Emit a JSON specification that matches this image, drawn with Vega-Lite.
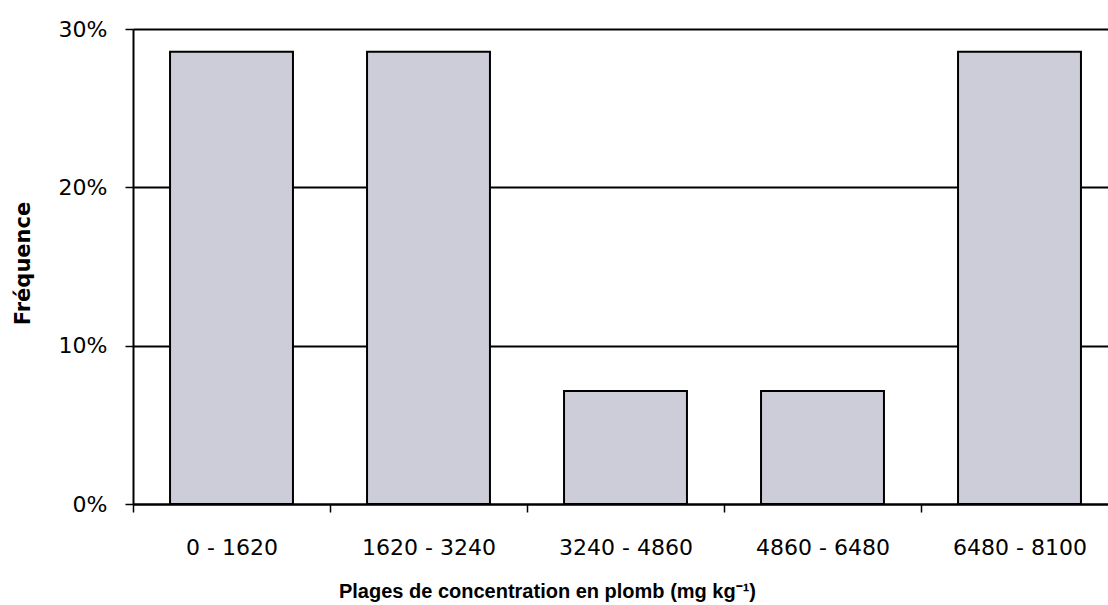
{
  "$schema": "https://vega.github.io/schema/vega-lite/v6.json",
  "autosize": {"type": "none"},
  "width": 985,
  "height": 475,
  "padding": {"left": 133, "top": 29, "right": 0, "bottom": 101},
  "background": "white",
  "config": {
    "view": {"stroke": null},
    "font": "DejaVu Sans"
  },
  "data": {
    "values": [
      {"plage": "0 - 1620", "freq": 0.2857},
      {"plage": "1620 - 3240", "freq": 0.2857},
      {"plage": "3240 - 4860", "freq": 0.0714},
      {"plage": "4860 - 6480", "freq": 0.0714},
      {"plage": "6480 - 8100", "freq": 0.2857}
    ]
  },
  "mark": {"type": "bar", "fill": "#cdcdda", "stroke": "black", "strokeWidth": 2},
  "encoding": {
    "x": {
      "field": "plage",
      "type": "nominal",
      "sort": null,
      "scale": {"paddingInner": 0.376, "paddingOuter": 0.188},
      "axis": {
        "title": "Plages de concentration en plomb (mg kg⁻¹)",
        "titleFont": "Liberation Sans",
        "titleFontSize": 20,
        "titleFontWeight": "bold",
        "titleColor": "black",
        "titleX": 414,
        "titleY": 93,
        "titleBaseline": "alphabetic",
        "titleAnchor": "middle",
        "labelAngle": 0,
        "labelFont": "DejaVu Sans",
        "labelFontSize": 22,
        "labelColor": "black",
        "labelPadding": 25,
        "tickOffset": -98.5,
        "labelOffset": 98.5,
        "tickSize": 8,
        "tickColor": "black",
        "tickWidth": 1.5,
        "domainColor": "black",
        "domainWidth": 2,
        "grid": false
      }
    },
    "y": {
      "field": "freq",
      "type": "quantitative",
      "scale": {"domain": [0, 0.3], "nice": false},
      "axis": {
        "title": "Fréquence",
        "titleFont": "DejaVu Sans",
        "titleFontSize": 21,
        "titleFontWeight": "bold",
        "titleColor": "black",
        "titleX": -104,
        "titleY": 234,
        "titleAngle": -90,
        "titleBaseline": "alphabetic",
        "titleAnchor": "middle",
        "values": [0, 0.1, 0.2, 0.3],
        "format": ".0%",
        "labelFont": "DejaVu Sans",
        "labelFontSize": 22,
        "labelColor": "black",
        "labelPadding": 18,
        "tickSize": 8,
        "tickColor": "black",
        "tickWidth": 1.5,
        "domainColor": "black",
        "domainWidth": 2,
        "grid": true,
        "gridColor": "black",
        "gridWidth": 2,
        "gridOpacity": 1
      }
    }
  }
}
